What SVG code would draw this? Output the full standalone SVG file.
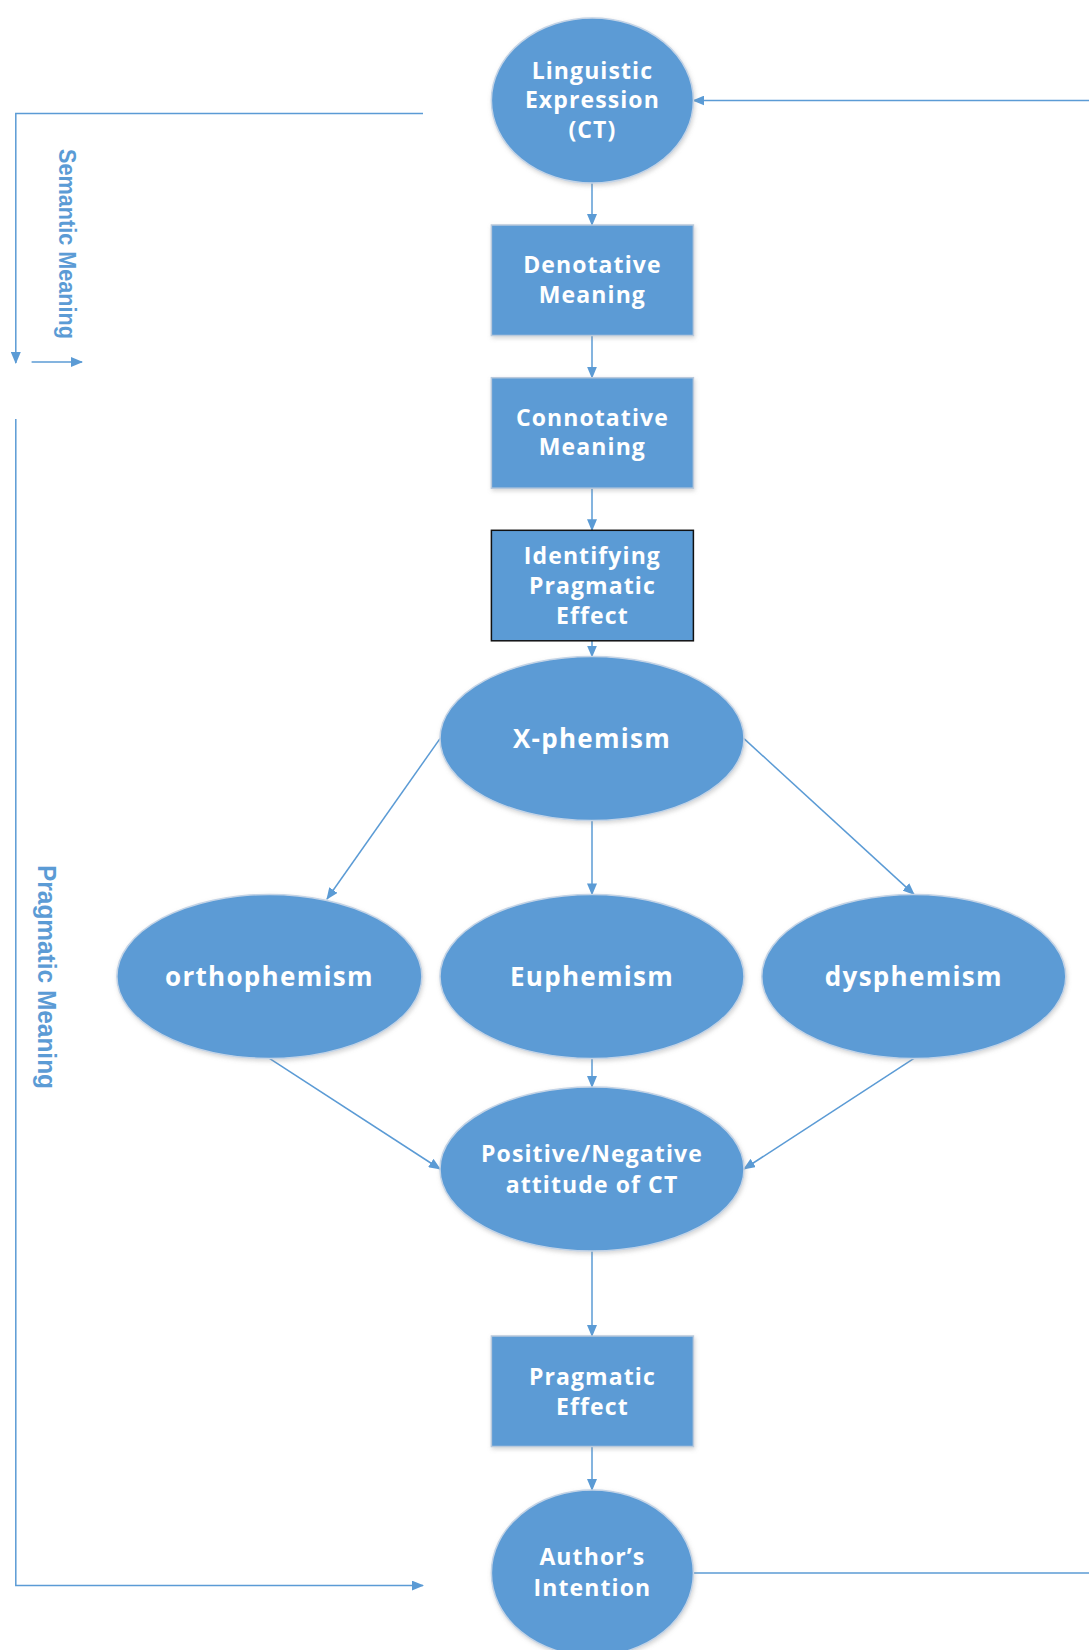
<svg xmlns="http://www.w3.org/2000/svg" width="1089" height="1650" viewBox="0 0 1089 1650">
<style>
.node{fill:#5b9bd5;stroke:#c3d3e6;stroke-width:1.5;filter:url(#sh)}
.box{fill:#5b9bd5;stroke:#b9c9dc;stroke-width:1.5;filter:url(#sh)}
.dark{fill:#5b9bd5;stroke:#111;stroke-width:1.5}
.t{font-family:"Open Sans","DejaVu Sans",sans-serif;font-weight:bold;font-size:23px;fill:#fff;text-anchor:middle;letter-spacing:1.1px}
.tl{font-family:"Open Sans","DejaVu Sans",sans-serif;font-weight:bold;font-size:26px;fill:#fff;text-anchor:middle;letter-spacing:1.3px}
.side{font-family:"Liberation Sans",Arial,sans-serif;fill:#5b9bd5;font-weight:bold}
.c{fill:none;stroke:#5b9bd5;stroke-width:1.5}
</style>
<defs>
<filter id="sh" x="-10%" y="-10%" width="120%" height="125%">
<feDropShadow dx="1" dy="2" stdDeviation="2" flood-color="#888" flood-opacity="0.35"/>
</filter>
<marker id="a" markerWidth="12" markerHeight="10" refX="11" refY="5" orient="auto" markerUnits="userSpaceOnUse">
<path d="M0,0 L12,5 L0,10 Z" fill="#5b9bd5"/>
</marker>
</defs>
<g id="connectors">
<path class="c" d="M592,183 V225" marker-end="url(#a)"/>
<path class="c" d="M592,335.5 V377.7" marker-end="url(#a)"/>
<path class="c" d="M592,488.2 V530.3" marker-end="url(#a)"/>
<path class="c" d="M592,640.8 V656.6" marker-end="url(#a)"/>
<path class="c" d="M440,738.6 L327,899" marker-end="url(#a)"/>
<path class="c" d="M592,820.6 V894.4" marker-end="url(#a)"/>
<path class="c" d="M744,738.6 L914,894.4" marker-end="url(#a)"/>
<path class="c" d="M269.4,1058.4 L440,1169" marker-end="url(#a)"/>
<path class="c" d="M592,1058.4 V1087" marker-end="url(#a)"/>
<path class="c" d="M914,1058.4 L744,1169" marker-end="url(#a)"/>
<path class="c" d="M592,1251 V1336" marker-end="url(#a)"/>
<path class="c" d="M592,1446.5 V1490" marker-end="url(#a)"/>
<path class="c" d="M1089,100.5 H693.4" marker-end="url(#a)"/>
<path class="c" d="M693.4,1573 H1089"/>
<path class="c" d="M423,113.6 H15.8 V363" marker-end="url(#a)"/>
<path class="c" d="M31.6,362 H82" marker-end="url(#a)"/>
<path class="c" d="M15.8,419 V1585.6 H423" marker-end="url(#a)"/>
</g>
<g id="labels">
<text class="side" font-size="23" transform="translate(59,149) rotate(90)" textLength="190" lengthAdjust="spacingAndGlyphs">Semantic Meaning</text>
<text class="side" font-size="26" transform="translate(38,865) rotate(90)" textLength="224" lengthAdjust="spacingAndGlyphs">Pragmatic Meaning</text>
</g>
<g id="n-linguistic">
<ellipse class="node" cx="592.4" cy="100.5" rx="101" ry="82.6"/>
<text class="t" x="592.4" y="78.7">Linguistic</text>
<text class="t" x="592.4" y="108.2">Expression</text>
<text class="t" x="592.4" y="137.6">(CT)</text>
</g>
<g id="n-denotative">
<rect class="box" x="491.4" y="225" width="202" height="110.5"/>
<text class="t" x="592.4" y="273.2">Denotative</text>
<text class="t" x="592.4" y="302.7">Meaning</text>
</g>
<g id="n-connotative">
<rect class="box" x="491.4" y="377.7" width="202" height="110.5"/>
<text class="t" x="592.4" y="425.9">Connotative</text>
<text class="t" x="592.4" y="455.3">Meaning</text>
</g>
<g id="n-identifying">
<rect class="dark" x="491.4" y="530.3" width="202" height="110.5"/>
<text class="t" x="592.4" y="563.7">Identifying</text>
<text class="t" x="592.4" y="593.7">Pragmatic</text>
<text class="t" x="592.4" y="623.7">Effect</text>
</g>
<g id="n-xphemism">
<ellipse class="node" cx="592" cy="738.6" rx="152" ry="82"/>
<text class="tl" x="592" y="747.9">X-phemism</text>
</g>
<g id="n-orthophemism">
<ellipse class="node" cx="269.4" cy="976.4" rx="152.5" ry="82"/>
<text class="tl" x="269.4" y="985.7">orthophemism</text>
</g>
<g id="n-euphemism">
<ellipse class="node" cx="592" cy="976.4" rx="152" ry="82"/>
<text class="tl" x="592" y="985.7">Euphemism</text>
</g>
<g id="n-dysphemism">
<ellipse class="node" cx="913.8" cy="976.4" rx="152" ry="82"/>
<text class="tl" x="913.8" y="985.7">dysphemism</text>
</g>
<g id="n-attitude">
<ellipse class="node" cx="592" cy="1169" rx="152" ry="82"/>
<text class="t" x="592" y="1162.2">Positive/Negative</text>
<text class="t" x="592" y="1192.9">attitude of CT</text>
</g>
<g id="n-pragmatic-effect">
<rect class="box" x="491.4" y="1336" width="202" height="110.5"/>
<text class="t" x="592.4" y="1385.2">Pragmatic</text>
<text class="t" x="592.4" y="1414.9">Effect</text>
</g>
<g id="n-author">
<ellipse class="node" cx="592.4" cy="1573" rx="101" ry="83"/>
<text class="t" x="592.4" y="1565.2">Author’s</text>
<text class="t" x="592.4" y="1595.8">Intention</text>
</g>
</svg>
